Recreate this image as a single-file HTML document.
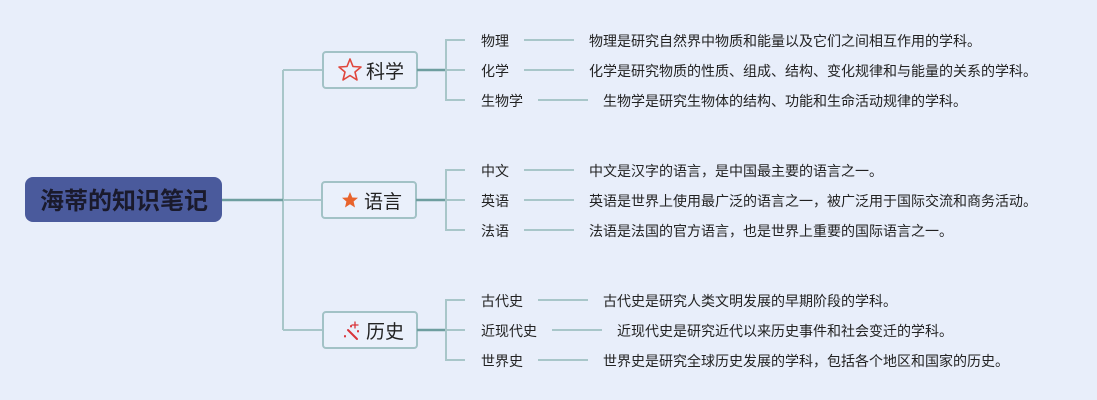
<!DOCTYPE html>
<html><head><meta charset="utf-8">
<style>
html,body{margin:0;padding:0;}
body{width:1097px;height:400px;background:#e8eefa;overflow:hidden;}
svg{display:block;}
text{font-family:"Liberation Sans","Noto Sans CJK SC",sans-serif;fill:#222;}
</style></head>
<body>
<svg width="1097" height="400" viewBox="0 0 1097 400" xmlns="http://www.w3.org/2000/svg">
<rect x="0" y="0" width="1097" height="400" fill="#e8eefa"/>
<!-- trunk -->
<g stroke="#a8c6c9" stroke-width="2" fill="none">
<path d="M283 70 V330"/>
<path d="M283 70 H323"/>
<path d="M283 200 H322"/>
<path d="M283 330 H323"/>
</g>
<path d="M222 200 H283" stroke="#6e9e9f" stroke-width="2.5"/>
<!-- root -->
<rect x="25" y="177" width="197" height="45" rx="8" fill="#4a5a9c"/>
<text x="124" y="209" font-size="24" font-weight="bold" text-anchor="middle" style="fill:#1a1a2c">海蒂的知识笔记</text>

<!-- branch boxes -->
<g fill="#eaf0fb" stroke="#a2c2c6" stroke-width="2">
<rect x="323" y="52" width="94" height="36" rx="3"/>
<rect x="322" y="182" width="94" height="36" rx="3"/>
<rect x="323" y="312" width="94" height="36" rx="3"/>
</g>
<text x="366" y="78" font-size="19">科学</text>
<text x="364" y="208" font-size="19">语言</text>
<text x="366" y="338" font-size="19">历史</text>
<!-- icons -->
<path d="M350 59 L353 66.5 L361 67 L355 72 L357 80 L350 75.5 L343 80 L345 72 L339 67 L347 66.5 Z" fill="none" stroke="#e0463c" stroke-width="1.6" stroke-linejoin="round"/>
<path d="M350 192 L352.3 197.5 L358 197.8 L353.6 201.5 L355 207.5 L350 204.2 L345 207.5 L346.4 201.5 L342 197.8 L347.7 197.5 Z" fill="#e8632c"/>
<g stroke="#d9343a" stroke-width="2" stroke-linecap="round">
<path d="M348 330 L357 339"/>
<path d="M351 326 L351 326.5"/>
<path d="M355 322 L355 328" stroke-width="1.3"/>
<path d="M352 325 L358 325" stroke-width="1.3"/>
<path d="M345 336 L345 336.5"/>
<path d="M358 331 L358 331.5"/>
</g>

<!-- brackets -->
<g stroke="#6e9e9f" stroke-width="2.5">
<path d="M417 70 H446"/>
<path d="M416 200 H446"/>
<path d="M417 330 H446"/>
</g>
<g stroke="#a8c6c9" stroke-width="2" fill="none">
<path d="M465 40 H446 V100 H465 M446 70 H465"/>
<path d="M465 170 H446 V230 H465 M446 200 H465"/>
<path d="M465 300 H446 V360 H465 M446 330 H465"/>
<!-- connectors -->
<path d="M524 40 H574"/>
<path d="M524 70 H574"/>
<path d="M538 100 H588"/>
<path d="M524 170 H574"/>
<path d="M524 200 H574"/>
<path d="M524 230 H574"/>
<path d="M538 300 H588"/>
<path d="M552 330 H602"/>
<path d="M538 360 H588"/>
</g>

<g font-size="14">
<text x="481" y="46">物理</text>
<text x="481" y="76">化学</text>
<text x="481" y="106">生物学</text>
<text x="481" y="176">中文</text>
<text x="481" y="206">英语</text>
<text x="481" y="236">法语</text>
<text x="481" y="306">古代史</text>
<text x="481" y="336">近现代史</text>
<text x="481" y="366">世界史</text>

<text x="589" y="46">物理是研究自然界中物质和能量以及它们之间相互作用的学科。</text>
<text x="589" y="76">化学是研究物质的性质、组成、结构、变化规律和与能量的关系的学科。</text>
<text x="603" y="106">生物学是研究生物体的结构、功能和生命活动规律的学科。</text>
<text x="589" y="176">中文是汉字的语言，是中国最主要的语言之一。</text>
<text x="589" y="206">英语是世界上使用最广泛的语言之一，被广泛用于国际交流和商务活动。</text>
<text x="589" y="236">法语是法国的官方语言，也是世界上重要的国际语言之一。</text>
<text x="603" y="306">古代史是研究人类文明发展的早期阶段的学科。</text>
<text x="617" y="336">近现代史是研究近代以来历史事件和社会变迁的学科。</text>
<text x="603" y="366">世界史是研究全球历史发展的学科，包括各个地区和国家的历史。</text>
</g>
</svg>
</body></html>
